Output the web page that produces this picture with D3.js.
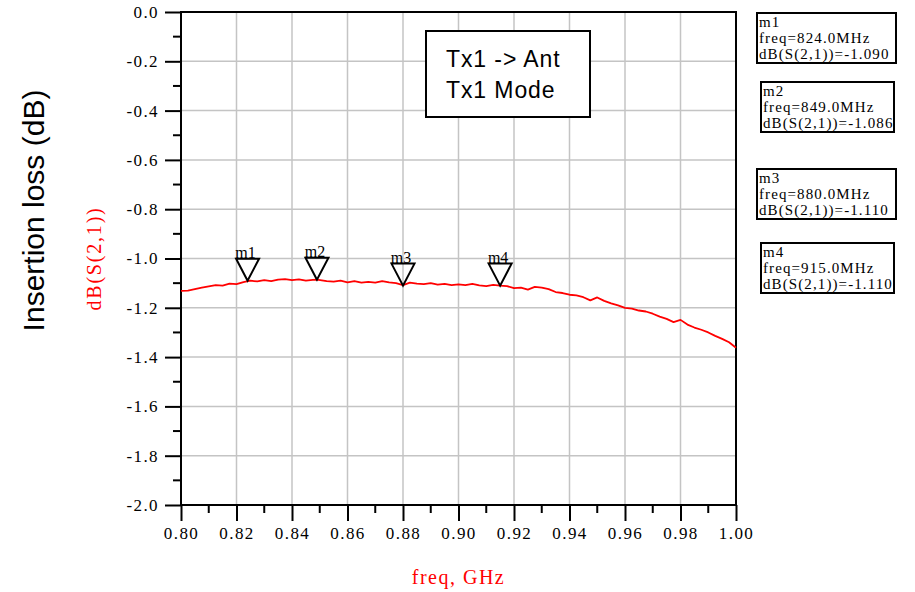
<!DOCTYPE html>
<html>
<head>
<meta charset="utf-8">
<script src="https://cdn.jsdelivr.net/npm/d3@7"></script>
<style>
  body { margin: 0; background: #fff; }
  svg { display: block; }
</style>
</head>
<body>
<div id="chart"></div>
<script>
// Trace data (GHz, dB)
let freqGHz = [0.800, 0.8025, 0.805, 0.8075, 0.810, 0.8125, 0.815, 0.8175, 0.820, 0.8225,
  0.825, 0.8275, 0.830, 0.8325, 0.835, 0.8375, 0.840, 0.8425, 0.845, 0.8475,
  0.849, 0.8525, 0.855, 0.8575, 0.860, 0.8625, 0.865, 0.8675, 0.870, 0.8725,
  0.875, 0.8775, 0.880, 0.8825, 0.885, 0.8875, 0.890, 0.8925, 0.895, 0.8975,
  0.900, 0.9025, 0.905, 0.9075, 0.910, 0.9125, 0.915, 0.9175, 0.920, 0.9225,
  0.925, 0.9275, 0.930, 0.9325, 0.935, 0.9375, 0.940, 0.9425, 0.945, 0.9475,
  0.950, 0.9525, 0.955, 0.9575, 0.960, 0.9625, 0.965, 0.9675, 0.970, 0.9725,
  0.975, 0.9775, 0.980, 0.9825, 0.985, 0.9875, 0.990, 0.9925, 0.995, 0.9975, 1.000]
let dbS21 = [-1.131, -1.130, -1.124, -1.118, -1.113, -1.108, -1.110, -1.102, -1.104, -1.096,
  -1.090, -1.093, -1.088, -1.092, -1.086, -1.084, -1.088, -1.085, -1.090, -1.087,
  -1.086, -1.092, -1.094, -1.090, -1.097, -1.092, -1.098, -1.095, -1.098, -1.092,
  -1.097, -1.100, -1.108, -1.098, -1.102, -1.104, -1.100, -1.106, -1.103, -1.108,
  -1.105, -1.108, -1.103, -1.109, -1.112, -1.107, -1.110, -1.112, -1.120, -1.118,
  -1.126, -1.115, -1.118, -1.124, -1.136, -1.140, -1.147, -1.150, -1.157, -1.170,
  -1.158, -1.172, -1.182, -1.190, -1.200, -1.203, -1.211, -1.215, -1.224, -1.236,
  -1.245, -1.258, -1.249, -1.268, -1.280, -1.289, -1.300, -1.314, -1.326, -1.340, -1.362]

// Markers
let markerNames = ['m1', 'm2', 'm3', 'm4']
let markerFreqMHz = [824.0, 849.0, 880.0, 915.0]
let markerDb = [-1.090, -1.086, -1.110, -1.110]

// Ticks
let xTicks = [0.80, 0.82, 0.84, 0.86, 0.88, 0.90, 0.92, 0.94, 0.96, 0.98, 1.00]
let yTicks = [0.0, -0.2, -0.4, -0.6, -0.8, -1.0, -1.2, -1.4, -1.6, -1.8, -2.0]

let titleLines = ['Tx1 -> Ant', 'Tx1 Mode']

// Set bounds
let svgWidth = 915, svgHeight = 592
let margin = { top: 12, right: 179, bottom: 87, left: 181 }
let width = svgWidth - margin.left - margin.right
let height = svgHeight - margin.top - margin.bottom

let serif = '"Liberation Serif", "Times New Roman", serif'
let sans = '"Liberation Sans", Arial, sans-serif'

// plain hyphen for negatives, like the original
let fmt = digits => d => d.toFixed(digits).replace('\u2212', '-')

let svg = d3.select('#chart')
  .append('svg')
  .attr('width', svgWidth)
  .attr('height', svgHeight)

let g = svg.append('g')
  .attr('transform', 'translate(' + margin.left + ',' + margin.top + ')')

let x = d3.scaleLinear().domain([0.8, 1.0]).range([0, width])
let y = d3.scaleLinear().domain([-2.0, 0.0]).range([height, 0])

// Grid
g.append('g')
  .selectAll('line')
  .data(xTicks.slice(1, -1))
  .join('line')
  .attr('x1', d => x(d)).attr('x2', d => x(d))
  .attr('y1', 0).attr('y2', height)
  .attr('stroke', '#c4c4c4').attr('stroke-width', 1.5)
g.append('g')
  .selectAll('line')
  .data(yTicks.slice(1, -1))
  .join('line')
  .attr('y1', d => y(d)).attr('y2', d => y(d))
  .attr('x1', 0).attr('x2', width)
  .attr('stroke', '#c4c4c4').attr('stroke-width', 1.5)

// Box around plot
g.append('rect')
  .attr('width', width).attr('height', height)
  .attr('fill', 'none').attr('stroke', '#000').attr('stroke-width', 2)

// X Axis - major and minor ticks
let xMinor = d3.range(0.81, 1.0, 0.02)
let xAxis = g.append('g').attr('transform', 'translate(0,' + height + ')')
xAxis.call(d3.axisBottom(x).tickValues(xTicks).tickSize(16).tickSizeOuter(0).tickPadding(6).tickFormat(fmt(2)))
xAxis.select('.domain').remove()
xAxis.selectAll('.tick line').attr('stroke-width', 2)
xAxis.selectAll('.tick text')
  .style('font-family', serif).style('font-size', '17px').style('letter-spacing', '1.4px')
  .attr('fill', '#000')
xAxis.selectAll('line.minor')
  .data(xMinor)
  .join('line')
  .attr('class', 'minor')
  .attr('x1', d => x(d)).attr('x2', d => x(d))
  .attr('y1', 0).attr('y2', 8)
  .attr('stroke', '#000').attr('stroke-width', 2)

// Y Axis - major and minor ticks
let yMinor = d3.range(-1.9, 0, 0.2)
let yAxis = g.append('g')
yAxis.call(d3.axisLeft(y).tickValues(yTicks).tickSize(16).tickSizeOuter(0).tickPadding(6).tickFormat(fmt(1)))
yAxis.select('.domain').remove()
yAxis.selectAll('.tick line').attr('stroke-width', 2)
yAxis.selectAll('.tick text')
  .style('font-family', serif).style('font-size', '17px').style('letter-spacing', '1.4px')
  .attr('fill', '#000')
yAxis.selectAll('line.minor')
  .data(yMinor)
  .join('line')
  .attr('class', 'minor')
  .attr('y1', d => y(d)).attr('y2', d => y(d))
  .attr('x1', 0).attr('x2', -8)
  .attr('stroke', '#000').attr('stroke-width', 2)

// Trace
let rows = freqGHz.map((f, i) => ({ f: f, v: dbS21[i] }))
let line = d3.line().x(d => x(d.f)).y(d => y(d.v))
g.append('path')
  .datum(rows)
  .attr('fill', 'none')
  .attr('stroke', '#ff0000')
  .attr('stroke-width', 1.8)
  .attr('stroke-linejoin', 'round')
  .attr('d', line)

// Marker triangles
let mk = g.append('g')
markerNames.forEach((name, i) => {
  let px = x(markerFreqMHz[i] / 1000), py = y(markerDb[i])
  mk.append('path')
    .attr('d', 'M' + px + ',' + py + 'L' + (px - 11.5) + ',' + (py - 22) + 'L' + (px + 11.5) + ',' + (py - 22) + 'Z')
    .attr('fill', 'none').attr('stroke', '#000').attr('stroke-width', 2)
  mk.append('text')
    .attr('x', px - 2).attr('y', py - 23)
    .attr('text-anchor', 'middle')
    .style('font-family', serif).style('font-size', '16px')
    .text(name)
})

// Title box
let tb = svg.append('g')
tb.append('rect')
  .attr('x', 426).attr('y', 31).attr('width', 164).attr('height', 86)
  .attr('fill', '#fff').attr('stroke', '#000').attr('stroke-width', 2)
tb.selectAll('text')
  .data(titleLines)
  .join('text')
  .attr('x', 446).attr('y', (d, i) => 67 + i * 31)
  .style('font-family', sans).style('font-size', '23px').style('letter-spacing', '0.9px')
  .text(d => d)

// Marker readout boxes
let boxes = [{ x: 757, y: 13, w: 139 }, { x: 761, y: 82, w: 133 }, { x: 757, y: 169, w: 139 }, { x: 761, y: 243, w: 133 }]
markerNames.forEach((name, i) => {
  let b = boxes[i]
  let bg = svg.append('g')
  bg.append('rect')
    .attr('x', b.x).attr('y', b.y).attr('width', b.w).attr('height', 50)
    .attr('fill', '#fff').attr('stroke', '#000').attr('stroke-width', 2)
  let lines = [name, 'freq=' + markerFreqMHz[i].toFixed(1) + 'MHz', 'dB(S(2,1))=' + markerDb[i].toFixed(3)]
  bg.selectAll('text')
    .data(lines)
    .join('text')
    .attr('x', b.x + 2).attr('y', (d, j) => b.y + 14 + j * 16)
    .style('font-family', serif).style('font-size', '15px').style('letter-spacing', '1.1px')
    .text(d => d)
})

// Axis labels
svg.append('text')
  .attr('transform', 'translate(44,' + (margin.top + height / 2 - 48) + ') rotate(-90)')
  .attr('text-anchor', 'middle')
  .style('font-family', sans).style('font-size', '30px')
  .text('Insertion loss (dB)')
svg.append('text')
  .attr('transform', 'translate(101,' + (margin.top + height / 2) + ') rotate(-90)')
  .attr('text-anchor', 'middle')
  .style('font-family', serif).style('font-size', '20px').style('letter-spacing', '1.8px')
  .attr('fill', '#ff0000')
  .text('dB(S(2,1))')
svg.append('text')
  .attr('x', margin.left + width / 2).attr('y', 584)
  .attr('text-anchor', 'middle')
  .style('font-family', serif).style('font-size', '20px').style('letter-spacing', '1.5px')
  .attr('fill', '#ff0000')
  .text('freq, GHz')
</script>
</body>
</html>
